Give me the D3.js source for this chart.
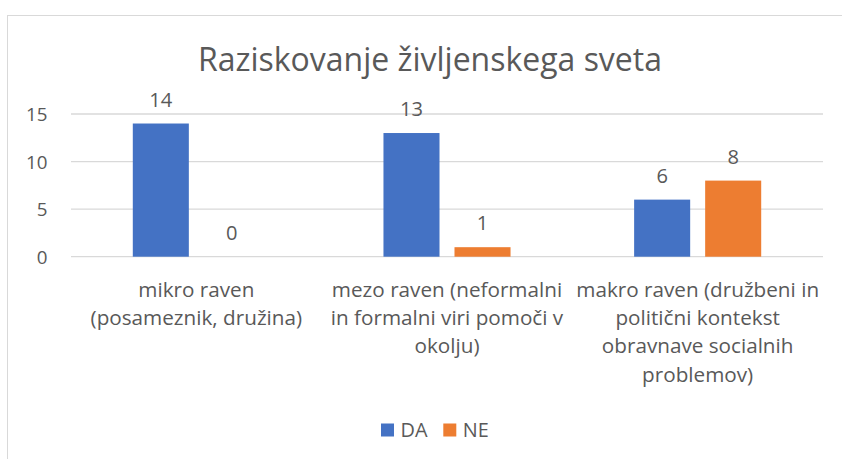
<!DOCTYPE html>
<html>
<head>
<meta charset="utf-8">
<script src="https://cdn.jsdelivr.net/npm/d3@7"></script>
<style>
  html, body { margin: 0; padding: 0; background: #fff; }
  svg { display: block; }
  text { font-family: "Open Sans", sans-serif; fill: #595959; }
</style>
</head>
<body>
<svg id="chart" width="842" height="459"></svg>
<script>
// ---- data ----
const title = "Raziskovanje življenskega sveta";
const categories = [
  "mikro raven (posameznik, družina)",
  "mezo raven (neformalni in formalni viri pomoči v okolju)",
  "makro raven (družbeni in politični kontekst obravnave socialnih problemov)"
];
const categoryLines = [
  ["mikro raven", "(posameznik, družina)"],
  ["mezo raven (neformalni", "in formalni viri pomoči v", "okolju)"],
  ["makro raven (družbeni in", "politični kontekst", "obravnave socialnih", "problemov)"]
];
const seriesNames = ["DA", "NE"];
const valuesDA = [14, 13, 6];
const valuesNE = [0, 1, 8];
const yTicks = [0, 5, 10, 15];
const colors = ["#4472C4", "#ED7D31"];

// ---- layout ----
const svg = d3.select("#chart");
const plot = { left: 71, right: 823, top: 114, bottom: 256.7 };

// measure helper: font size so that a string reaches a target width
function fitSize(str, targetW, base) {
  const t = svg.append("text").attr("font-size", base).text(str);
  const w = t.node().getComputedTextLength();
  t.remove();
  return base * targetW / w;
}
const titleSize = fitSize(title, 464, 30);
const labelSize = fitSize("makro raven (družbeni in", 243, 18);
const tickSize = fitSize("15", 21.5, 18);
const dataSize = fitSize("14", 23, 18);
const legendSize = fitSize("DA", 27, 18);

// chart border
svg.append("rect")
  .attr("x", 7.5).attr("y", 15.5)
  .attr("width", 900).attr("height", 500)
  .attr("fill", "#fff").attr("stroke", "#D9D9D9").attr("stroke-width", 1);

const x0 = d3.scaleBand().domain(categories).range([plot.left, plot.right]);
const x1 = d3.scaleBand().domain(seriesNames).range([0, x0.bandwidth()])
  .paddingInner(0.211).paddingOuter(0.87);
const y = d3.scaleLinear().domain([0, 15]).range([plot.bottom, plot.top]);

// gridlines
svg.append("g").selectAll("line").data(yTicks).join("line")
  .attr("x1", plot.left).attr("x2", plot.right)
  .attr("y1", d => y(d)).attr("y2", d => y(d))
  .attr("stroke", "#D9D9D9").attr("stroke-width", 1.3);

// y axis labels
const yAxis = d3.axisLeft(y).tickValues(yTicks).tickSize(0).tickPadding(0).tickFormat(d3.format("d"));
const yG = svg.append("g").attr("transform", `translate(${47.5},0)`).call(yAxis);
yG.select(".domain").remove();
yG.selectAll("text")
  .attr("font-size", tickSize).attr("fill", "#595959")
  .style("font-family", "'Open Sans', sans-serif")
  .attr("dy", "0.36em").attr("x", 0);

// bars
const rows = categories.map((c, i) => ({ cat: c, vals: [
  { s: "DA", v: valuesDA[i] }, { s: "NE", v: valuesNE[i] }
]}));
const groups = svg.append("g").selectAll("g").data(rows).join("g")
  .attr("transform", d => `translate(${x0(d.cat)},0)`);
groups.selectAll("rect").data(d => d.vals).join("rect")
  .attr("x", d => x1(d.s)).attr("width", x1.bandwidth())
  .attr("y", d => y(d.v)).attr("height", d => y(0) - y(d.v))
  .attr("fill", (d, i) => colors[i]);

// data labels
groups.selectAll("text").data(d => d.vals).join("text")
  .attr("x", d => x1(d.s) + x1.bandwidth() / 2)
  .attr("y", d => y(d.v) - 17)
  .attr("text-anchor", "middle")
  .attr("font-size", dataSize)
  .attr("fill", "#404040")
  .text(d => d.v);

// category labels
const catG = svg.append("g").selectAll("text").data(categories).join("text")
  .attr("text-anchor", "middle")
  .attr("font-size", labelSize)
  .attr("fill", "#595959");
catG.each(function(c, i) {
  const t = d3.select(this);
  const cx = x0(c) + x0.bandwidth() / 2;
  categoryLines[i].forEach((ln, k) => {
    t.append("tspan").attr("x", cx).attr("y", 296.7 + k * 28.3).text(ln);
  });
});

// title
svg.append("text")
  .attr("x", 430).attr("y", 71)
  .attr("text-anchor", "middle")
  .attr("font-size", titleSize)
  .attr("fill", "#595959")
  .text(title);

// legend
const legend = svg.append("g");
const legendX = [381, 443.3];
seriesNames.forEach((s, i) => {
  legend.append("rect")
    .attr("x", legendX[i]).attr("y", 423.5)
    .attr("width", 13).attr("height", 13)
    .attr("fill", colors[i]);
  legend.append("text")
    .attr("x", legendX[i] + 19.5).attr("y", 436.7)
    .attr("font-size", legendSize)
    .attr("fill", "#595959")
    .text(s);
});
</script>
</body>
</html>
